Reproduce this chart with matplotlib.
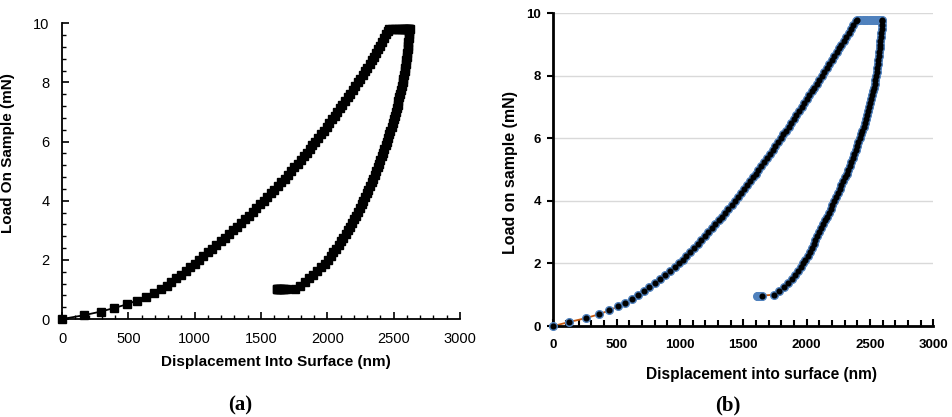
import numpy as np
import matplotlib.pyplot as plt
from matplotlib.ticker import MultipleLocator

# load steps (mN)
load_up = [0, 0.125, 0.25, 0.375, 0.5, 0.625, 0.75, 0.875, 1.0, 1.125, 1.25, 1.375,
           1.5, 1.625, 1.75, 1.875, 2.0, 2.125, 2.25, 2.375, 2.5, 2.625, 2.75, 2.875,
           3.0, 3.125, 3.25, 3.375, 3.5, 3.625, 3.75, 3.875, 4.0, 4.125, 4.25, 4.375,
           4.5, 4.625, 4.75, 4.875, 5.0, 5.125, 5.25, 5.375, 5.5, 5.625, 5.75, 5.875,
           6.0, 6.125, 6.25, 6.375, 6.5, 6.625, 6.75, 6.875, 7.0, 7.125, 7.25, 7.375,
           7.5, 7.625, 7.75, 7.875, 8.0, 8.125, 8.25, 8.375, 8.5, 8.625, 8.75, 8.875,
           9.0, 9.125, 9.25, 9.375, 9.5, 9.625, 9.75, 9.8]
load_down = [9.8, 9.75, 9.625, 9.5, 9.375, 9.25, 9.125, 9.0, 8.875, 8.75, 8.625, 8.5,
             8.375, 8.25, 8.125, 8.0, 7.875, 7.75, 7.625, 7.5, 7.375, 7.25, 7.125, 7.0,
             6.875, 6.75, 6.625, 6.5, 6.375, 6.25, 6.125, 6.0, 5.875, 5.75, 5.625, 5.5,
             5.375, 5.25, 5.125, 5.0, 4.875, 4.75, 4.625, 4.5, 4.375, 4.25, 4.125, 4.0,
             3.875, 3.75, 3.625, 3.5, 3.375, 3.25, 3.125, 3.0, 2.875, 2.75, 2.625, 2.5,
             2.375, 2.25, 2.125, 2.0, 1.875, 1.75, 1.625, 1.5, 1.375, 1.25, 1.125, 1.0]
peak_load = 9.8

# (a) displacement (nm)
disp_up_a = [0, 162, 291, 395, 492, 563, 633, 694, 749, 789, 825, 861, 896, 931, 965, 999,
             1033, 1066, 1099, 1132, 1164, 1196, 1227, 1258, 1289, 1319, 1349, 1378, 1407,
             1436, 1464, 1492, 1520, 1547, 1574, 1601, 1627, 1653, 1678, 1703, 1727, 1752,
             1775, 1799, 1822, 1844, 1867, 1888, 1910, 1931, 1952, 1973, 1994, 2014, 2034,
             2055, 2075, 2095, 2114, 2134, 2154, 2173, 2192, 2211, 2230, 2248, 2266, 2283,
             2301, 2318, 2334, 2351, 2367, 2383, 2398, 2413, 2428, 2443, 2457, 2463]
hold_top_a = [2488, 2510, 2528, 2543, 2556, 2567, 2577, 2586, 2594, 2601, 2607, 2612, 2616]
disp_down_a = [2620, 2619, 2617, 2614, 2611, 2609, 2606, 2603, 2599, 2596, 2592, 2588, 2583,
               2578, 2573, 2568, 2562, 2556, 2550, 2543, 2536, 2529, 2522, 2515, 2507, 2500,
               2492, 2484, 2475, 2466, 2457, 2448, 2439, 2429, 2420, 2410, 2400, 2389, 2379,
               2368, 2356, 2345, 2333, 2321, 2309, 2297, 2284, 2272, 2258, 2245, 2231, 2217,
               2202, 2186, 2171, 2155, 2138, 2120, 2103, 2085, 2065, 2045, 2025, 2005, 1979,
               1953, 1924, 1895, 1863, 1830, 1794, 1757]
hold_end_a = [1690, 1675, 1662, 1651, 1642, 1635, 1629, 1624, 1620]
end_load_a = 1.0

# (b) displacement (nm)
disp_up_b = [0, 122, 255, 360, 443, 510, 568, 618, 668, 713, 756, 800, 841, 883, 924, 959,
             990, 1021, 1051, 1081, 1110, 1139, 1168, 1197, 1225, 1252, 1279, 1306, 1332,
             1358, 1383, 1409, 1434, 1458, 1481, 1504, 1527, 1550, 1574, 1597, 1620, 1643,
             1665, 1688, 1710, 1731, 1753, 1774, 1795, 1816, 1837, 1857, 1878, 1899, 1919,
             1940, 1960, 1980, 2000, 2020, 2040, 2060, 2080, 2099, 2119, 2139, 2159, 2178,
             2198, 2217, 2237, 2256, 2275, 2294, 2313, 2331, 2350, 2369, 2388, 2395]
hold_top_b = [2420, 2442, 2462, 2480, 2497, 2512, 2526, 2539, 2551, 2562, 2572, 2581, 2590]
disp_down_b = [2598, 2597, 2595, 2592, 2589, 2586, 2583, 2580, 2577, 2573, 2570, 2566, 2562,
               2557, 2553, 2548, 2542, 2536, 2530, 2524, 2517, 2510, 2503, 2496, 2487, 2479,
               2470, 2461, 2451, 2441, 2430, 2420, 2409, 2398, 2387, 2376, 2364, 2352, 2340,
               2328, 2315, 2302, 2288, 2275, 2261, 2247, 2233, 2219, 2204, 2190, 2175, 2160,
               2145, 2130, 2115, 2100, 2085, 2070, 2055, 2040, 2024, 2007, 1991, 1974, 1954,
               1933, 1909, 1885, 1855, 1825, 1785, 1740]
hold_end_b = [1650, 1640, 1632, 1625, 1619, 1614, 1611]
end_load_b = 0.97


def whole_curve(up, hold_top, down, hold_end, end_load):
    x = up + hold_top + down + hold_end
    y = load_up + [peak_load] * len(hold_top) + load_down + [end_load] * len(hold_end)
    return x, y


xa, ya = whole_curve(disp_up_a, hold_top_a, disp_down_a, hold_end_a, end_load_a)
xb, yb = whole_curve(disp_up_b, hold_top_b, disp_down_b, hold_end_b, end_load_b)

sans = 'Liberation Sans'
fig = plt.figure(figsize=(9.53, 4.17), dpi=100)

# ---- (a) ----
ax = fig.add_axes([0.0651, 0.235, 0.4176, 0.709])
ax.plot(xa, ya, color='black', lw=1.3, marker='s', ms=6, mfc='black', mec='black',
        clip_on=False, zorder=3)
ax.set_xlim(0, 3000)
ax.set_ylim(0, 10)
ax.xaxis.set_major_locator(MultipleLocator(500))
ax.xaxis.set_minor_locator(MultipleLocator(100))
ax.yaxis.set_major_locator(MultipleLocator(2))
ax.yaxis.set_minor_locator(MultipleLocator(0.4))
for s in ['top', 'right']:
    ax.spines[s].set_visible(False)
for s in ['left', 'bottom']:
    ax.spines[s].set_linewidth(1.3)
ax.tick_params(which='major', direction='in', length=5, width=1.2, pad=9, labelsize=10.5)
ax.tick_params(which='minor', direction='in', length=3, width=1)
for lab in ax.get_xticklabels() + ax.get_yticklabels():
    lab.set_fontfamily(sans)
ax.set_xlabel('Displacement Into Surface (nm)', fontfamily=sans, fontweight='bold',
              fontsize=11, labelpad=7)
ax.xaxis.label.set_x(0.538)
ax.set_ylabel('Load On Sample (mN)', fontfamily=sans, fontweight='bold', fontsize=11)
ax.yaxis.set_label_coords(-0.118, 0.56)

# ---- (b) ----
bx = fig.add_axes([0.5806, 0.2182, 0.3987, 0.750])
bx.plot(xb, yb, color='#c55a11', lw=1.3, zorder=2)
bx.plot(xb, yb, ls='none', marker='o', ms=5.5, mfc='#4f81bd', mec='#4f81bd',
        zorder=3, clip_on=False)
dots_x = disp_up_b + disp_down_b + hold_end_b[:1]
dots_y = load_up + load_down + [end_load_b]
bx.plot(dots_x, dots_y, ls='none', marker='o', ms=3.4, mfc='black', mec='black',
        zorder=4, clip_on=False)
bx.set_xlim(0, 3000)
bx.set_ylim(0, 10)
bx.xaxis.set_major_locator(MultipleLocator(500))
bx.xaxis.set_minor_locator(MultipleLocator(100))
bx.yaxis.set_major_locator(MultipleLocator(2))
bx.yaxis.grid(True, color='#d9d9d9', lw=1)
bx.set_axisbelow(True)
for s in ['top', 'right']:
    bx.spines[s].set_visible(False)
for s in ['left', 'bottom']:
    bx.spines[s].set_linewidth(2)
bx.tick_params(axis='x', which='major', direction='in', length=5, width=1.5, pad=9,
               labelsize=9.5)
bx.tick_params(axis='x', which='minor', direction='in', length=4, width=1.5)
bx.tick_params(axis='y', which='major', direction='out', length=4, width=1.5, pad=5,
               labelsize=9.5)
for lab in bx.get_xticklabels() + bx.get_yticklabels():
    lab.set_fontfamily(sans)
    lab.set_fontweight('bold')
bx.set_xlabel('Displacement into surface (nm)', fontfamily=sans, fontweight='bold',
              fontsize=11.2, labelpad=12)
bx.xaxis.label.set_x(0.549)
bx.set_ylabel('Load on sample (mN)', fontfamily=sans, fontweight='bold', fontsize=11.5)
bx.yaxis.set_label_coords(-0.093, 0.49)

fig.text(240 / 953, 1 - 405 / 417, '(a)', fontfamily='Liberation Serif',
         fontweight='bold', fontsize=15, ha='center', va='center')
fig.text(728 / 953, 1 - 405 / 417, '(b)', fontfamily='Liberation Serif',
         fontweight='bold', fontsize=15, ha='center', va='center')

fig.savefig('out.png', dpi=100)
